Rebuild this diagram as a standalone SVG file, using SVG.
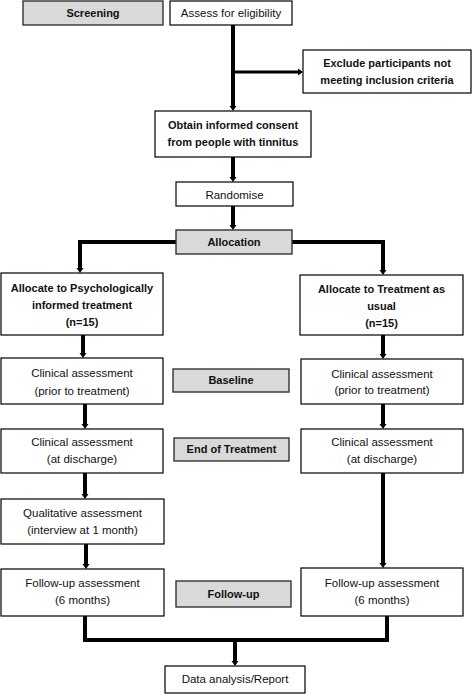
<svg xmlns="http://www.w3.org/2000/svg" width="472" height="695" viewBox="0 0 472 695">
<defs>
<marker id="ah" markerUnits="userSpaceOnUse" markerWidth="8" markerHeight="8" viewBox="0 0 5 8" refX="0" refY="4" orient="auto">
<path d="M0,0.5 L5,4 L0,7.5 Z" fill="#000"/>
</marker>
<style>
rect{fill:#fff;stroke:#000;stroke-width:1.2}
.h{fill:#d9d9d9;stroke:#333;stroke-width:1.4}
text{font-family:"Liberation Sans",Arial,sans-serif;font-size:11.5px;fill:#111;text-anchor:middle}
.b{font-weight:bold;font-size:11px}
#connectors path{fill:none;stroke:#000;stroke-width:4}
#connectors .thin{stroke-width:3}
</style>
</defs>
<rect x="0" y="0" width="472" height="695" style="fill:#fff;stroke:none"/>
<g id="connectors">
<path d="M233 25 V106" marker-end="url(#ah)"/>
<path class="thin" d="M233 72 H298" marker-end="url(#ah)"/>
<path d="M233 157 V177" marker-end="url(#ah)"/>
<path d="M233 206 V225" marker-end="url(#ah)"/>
<path d="M176 242 H80 V268" marker-end="url(#ah)"/>
<path d="M292 242 H383 V270" marker-end="url(#ah)"/>
<path d="M83 335 V353" marker-end="url(#ah)"/>
<path d="M85 404 V424" marker-end="url(#ah)"/>
<path d="M85 473 V494" marker-end="url(#ah)"/>
<path d="M86 544 V564" marker-end="url(#ah)"/>
<path d="M383 335 V354" marker-end="url(#ah)"/>
<path d="M383 404 V424" marker-end="url(#ah)"/>
<path d="M383 473 V563" marker-end="url(#ah)"/>
<path d="M85 616 V640 H387 V616"/>
<path d="M235 640 V661" marker-end="url(#ah)"/>
</g>
<g id="screening"><rect class="h" x="23" y="1" width="140" height="24"/><text class="b" x="93" y="17">Screening</text></g>
<g id="assess"><rect x="170" y="1" width="122" height="24"/><text x="231" y="17">Assess for eligibility</text></g>
<g id="exclude"><rect x="303" y="50" width="168" height="43"/><text class="b" x="387" y="67">Exclude participants not</text><text class="b" x="387" y="84">meeting inclusion criteria</text></g>
<g id="obtain"><rect x="155" y="111" width="156" height="46"/><text class="b" x="233" y="129">Obtain informed consent</text><text class="b" x="233" y="146">from people with tinnitus</text></g>
<g id="randomise"><rect x="176" y="182" width="117" height="24"/><text x="234.5" y="199">Randomise</text></g>
<g id="allocation"><rect class="h" x="176" y="230" width="116" height="24"/><text class="b" x="234" y="246">Allocation</text></g>
<g id="alloc-pit"><rect x="1" y="273" width="162" height="62"/><text class="b" x="82" y="292">Allocate to Psychologically</text><text class="b" x="82" y="309">informed treatment</text><text class="b" x="82" y="326">(n=15)</text></g>
<g id="alloc-tau"><rect x="300" y="275" width="163" height="60"/><text class="b" x="381.5" y="293">Allocate to Treatment as</text><text class="b" x="381.5" y="310">usual</text><text class="b" x="381.5" y="327">(n=15)</text></g>
<g id="clin-base-l"><rect x="1" y="358" width="162" height="46"/><text x="82" y="377">Clinical assessment</text><text x="82" y="395">(prior to treatment)</text></g>
<g id="baseline"><rect class="h" x="173" y="369" width="116" height="23"/><text class="b" x="231" y="384">Baseline</text></g>
<g id="clin-base-r"><rect x="301" y="359" width="162" height="45"/><text x="382" y="378">Clinical assessment</text><text x="382" y="394">(prior to treatment)</text></g>
<g id="clin-dis-l"><rect x="1" y="429" width="162" height="44"/><text x="82" y="446">Clinical assessment</text><text x="82" y="463">(at discharge)</text></g>
<g id="end-treatment"><rect class="h" x="174" y="438" width="115" height="23"/><text class="b" x="231.5" y="453">End of Treatment</text></g>
<g id="clin-dis-r"><rect x="301" y="429" width="162" height="44"/><text x="382" y="446">Clinical assessment</text><text x="382" y="463">(at discharge)</text></g>
<g id="qualitative"><rect x="1" y="499" width="163" height="45"/><text x="82.5" y="517">Qualitative assessment</text><text x="82.5" y="534">(interview at 1 month)</text></g>
<g id="followup-l"><rect x="1" y="569" width="163" height="47"/><text x="82.5" y="587">Follow-up assessment</text><text x="82.5" y="604">(6 months)</text></g>
<g id="followup"><rect class="h" x="176" y="581" width="115" height="26"/><text class="b" x="233.5" y="598">Follow-up</text></g>
<g id="followup-r"><rect x="301" y="568" width="162" height="48"/><text x="382" y="587">Follow-up assessment</text><text x="382" y="604">(6 months)</text></g>
<g id="data"><rect x="165" y="666" width="140" height="27"/><text x="235" y="683">Data analysis/Report</text></g>
</svg>
